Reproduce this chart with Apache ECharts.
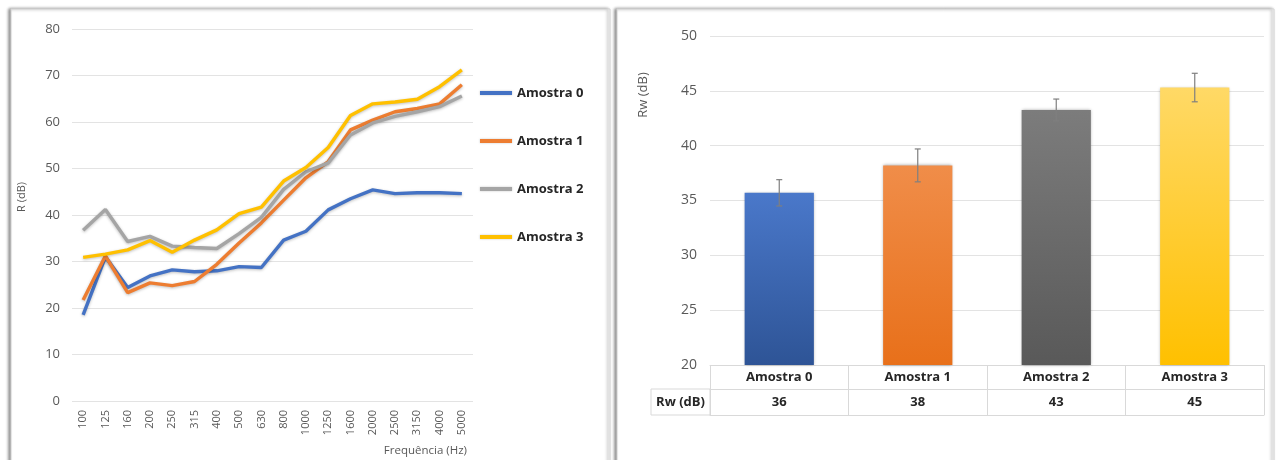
<!DOCTYPE html>
<html>
<head>
<meta charset="utf-8">
<script src="https://cdn.jsdelivr.net/npm/echarts@6/dist/echarts.min.js"></script>
<style>
html,body{margin:0;padding:0;background:#fff;}
#main{width:1277px;height:460px;}
</style>
</head>
<body>
<div id="main"></div>
<script>
// ---- data ----
const freqs = ['100','125','160','200','250','315','400','500','630','800','1000','1250','1600','2000','2500','3150','4000','5000'];
const amostra0 = [18.5,31.0,24.4,26.9,28.2,27.8,28.0,28.9,28.7,34.6,36.5,41.1,43.5,45.4,44.6,44.8,44.8,44.6];
const amostra1 = [21.7,31.2,23.3,25.4,24.8,25.7,29.4,34.0,38.3,43.2,48.0,51.5,58.3,60.4,62.2,62.9,63.9,68.0];
const amostra2 = [36.7,41.2,34.3,35.4,33.3,33.0,32.8,36.0,39.5,45.5,49.3,51.2,57.2,59.8,61.2,62.2,63.3,65.6];
const amostra3 = [30.9,31.6,32.5,34.5,32.0,34.6,36.8,40.3,41.7,47.3,50.2,54.5,61.4,63.9,64.3,64.9,67.6,71.2];
const lineNames = ['Amostra 0','Amostra 1','Amostra 2','Amostra 3'];
const leftYTicks = {min:0, max:80, interval:10};

const samples = ['Amostra 0','Amostra 1','Amostra 2','Amostra 3'];
const rw = [35.7, 38.2, 43.25, 45.3];
const rwErr = [1.2, 1.5, 1.0, 1.3];
const rwTable = [36, 38, 43, 45];
const rightYTicks = {min:20, max:50, interval:5};

// ---- styles ----
const lineColors = ['#4472C4','#ED7D31','#A5A5A5','#FFC000'];
const barGrad = [
  ['#4A78CA','#2E5496'],
  ['#F08D49','#E8701A'],
  ['#7C7C7C','#595959'],
  ['#FFD966','#FFC000']
];
const FONT = '"Open Sans", "Liberation Sans", sans-serif';
const G0 = {left:72, right:1277-473, top:29, bottom:460-401};
const G1 = {left:710, right:1277-1264, top:36, bottom:460-365};
const tableBorder = '#d9d9d9';

const chart = echarts.init(document.getElementById('main'), null, {renderer:'canvas'});

const lineSeries = [amostra0, amostra1, amostra2, amostra3].map((d, i) => ({
  name: lineNames[i],
  type: 'line',
  xAxisIndex: 0, yAxisIndex: 0,
  data: d,
  symbol: 'none',
  smooth: false,
  z: 3 + (i === 3 ? 1 : 0),
  lineStyle: {
    width: 3.4, color: lineColors[i],
    shadowColor: 'rgba(0,0,0,0.25)', shadowBlur: 3, shadowOffsetY: 1
  },
  itemStyle: {color: lineColors[i]}
}));

const barSeries = {
  name: 'Rw',
  type: 'bar',
  xAxisIndex: 1, yAxisIndex: 1,
  barWidth: '50%',
  data: rw.map((v, i) => ({
    value: v,
    itemStyle: {
      color: new echarts.graphic.LinearGradient(0, 0, 0, 1, [
        {offset: 0, color: barGrad[i][0]},
        {offset: 1, color: barGrad[i][1]}
      ]),
      shadowColor: 'rgba(0,0,0,0.35)', shadowBlur: 3
    }
  })),
  z: 2
};

const errSeries = {
  name: 'err',
  type: 'custom',
  xAxisIndex: 1, yAxisIndex: 1,
  data: rw.map((v, i) => [i, v - rwErr[i], v + rwErr[i]]),
  renderItem: function (params, api) {
    const lo = api.coord([api.value(0), api.value(1)]);
    const hi = api.coord([api.value(0), api.value(2)]);
    const cw = 3;
    const st = {stroke: '#7f7f7f', lineWidth: 1.2};
    return {
      type: 'group',
      children: [
        {type: 'line', shape: {x1: lo[0], y1: lo[1], x2: hi[0], y2: hi[1]}, style: st},
        {type: 'line', shape: {x1: lo[0]-cw, y1: lo[1], x2: lo[0]+cw, y2: lo[1]}, style: st},
        {type: 'line', shape: {x1: hi[0]-cw, y1: hi[1], x2: hi[0]+cw, y2: hi[1]}, style: st}
      ]
    };
  },
  z: 5,
  silent: true
};

const cellLeft = 651;
const rowTop = 460 - G1.bottom; // 365
const row1 = rowTop + 24;
const row2 = rowTop + 50;

chart.setOption({
  backgroundColor: '#ffffff',
  animation: false,
  textStyle: {fontFamily: FONT},
  grid: [
    {left: G0.left, right: G0.right, top: G0.top, bottom: G0.bottom},
    {left: G1.left, right: G1.right, top: G1.top, bottom: G1.bottom}
  ],
  legend: {
    data: lineNames,
    orient: 'vertical',
    left: 480, top: 85,
    padding: 0,
    itemWidth: 32, itemHeight: 4,
    itemGap: 32,
    icon: 'rect',
    textStyle: {fontFamily: FONT, fontSize: 13, fontWeight: 'bold', color: '#262626', lineHeight: 16},
    itemStyle: {shadowColor: 'rgba(0,0,0,0.25)', shadowBlur: 2}
  },
  xAxis: [
    {
      gridIndex: 0, type: 'category', data: freqs, boundaryGap: true,
      axisLine: {show: false}, axisTick: {show: false},
      axisLabel: {rotate: 90, fontSize: 11, color: '#595959', margin: 9, interval: 0, fontFamily: FONT},
      splitLine: {show: false}
    },
    {
      gridIndex: 1, type: 'category', data: samples, boundaryGap: true, position: 'bottom',
      axisLine: {show: true, lineStyle: {color: tableBorder, width: 1}},
      axisTick: {show: true, length: 50, lineStyle: {color: tableBorder}},
      axisLabel: {fontSize: 13, fontWeight: 'bold', color: '#262626', margin: 6, fontFamily: FONT, interval: 0},
      splitLine: {show: false}
    },
    {
      gridIndex: 1, type: 'category', data: samples, boundaryGap: true, position: 'bottom', offset: 24,
      axisLine: {show: true, lineStyle: {color: tableBorder, width: 1}},
      axisTick: {show: false},
      axisLabel: {fontSize: 13, fontWeight: 'bold', color: '#262626', margin: 7, fontFamily: FONT, interval: 0,
        formatter: function (v, i) { return String(rwTable[i]); }},
      splitLine: {show: false}
    },
    {
      gridIndex: 1, type: 'category', data: samples, boundaryGap: true, position: 'bottom', offset: 50,
      axisLine: {show: true, lineStyle: {color: tableBorder, width: 1}},
      axisTick: {show: false}, axisLabel: {show: false}, splitLine: {show: false}
    }
  ],
  yAxis: [
    {
      gridIndex: 0, type: 'value', min: leftYTicks.min, max: leftYTicks.max, interval: leftYTicks.interval,
      axisLine: {show: false}, axisTick: {show: false},
      axisLabel: {fontSize: 13, color: '#595959', margin: 12, fontFamily: FONT},
      splitLine: {show: true, lineStyle: {color: '#e3e3e3', width: 1.2}}
    },
    {
      gridIndex: 1, type: 'value', min: rightYTicks.min, max: rightYTicks.max, interval: rightYTicks.interval,
      axisLine: {show: false}, axisTick: {show: false},
      axisLabel: {fontSize: 14, color: '#595959', margin: 13, fontFamily: FONT},
      splitLine: {show: true, lineStyle: {color: '#e3e3e3', width: 1.2}}
    }
  ],
  graphic: [
    {type: 'rect', z: -10, shape: {x: 11, y: 9, width: 599, height: 480},
      style: {fill: '#fff', stroke: '#d4d4d4', lineWidth: 1, shadowColor: 'rgba(0,0,0,0.45)', shadowBlur: 3, shadowOffsetX: -2}},
    {type: 'rect', z: -10, shape: {x: 617, y: 9, width: 657, height: 480},
      style: {fill: '#fff', stroke: '#d4d4d4', lineWidth: 1, shadowColor: 'rgba(0,0,0,0.45)', shadowBlur: 3, shadowOffsetX: -2}},
    {type: 'text', x: 22, y: 197, rotation: Math.PI / 2,
      style: {text: 'R (dB)', fontSize: 11, fill: '#595959', fontFamily: FONT, align: 'center', verticalAlign: 'middle'}},
    {type: 'text', x: 467, y: 451,
      style: {text: 'Frequência (Hz)', fontSize: 11.5, fill: '#595959', fontFamily: FONT, align: 'right', verticalAlign: 'middle'}},
    {type: 'text', x: 643, y: 95, rotation: Math.PI / 2,
      style: {text: 'Rw (dB)', fontSize: 13, fill: '#595959', fontFamily: FONT, align: 'center', verticalAlign: 'middle'}},
    {type: 'rect', shape: {x: cellLeft, y: row1, width: G1.left - cellLeft, height: row2 - row1},
      style: {fill: 'none', stroke: tableBorder, lineWidth: 1}},
    {type: 'text', x: (cellLeft + G1.left) / 2, y: (row1 + row2) / 2,
      style: {text: 'Rw (dB)', fontSize: 13, fontWeight: 'bold', fill: '#262626', fontFamily: FONT, align: 'center', verticalAlign: 'middle'}}
  ],
  series: [].concat(lineSeries, [barSeries, errSeries])
});
</script>
</body>
</html>
